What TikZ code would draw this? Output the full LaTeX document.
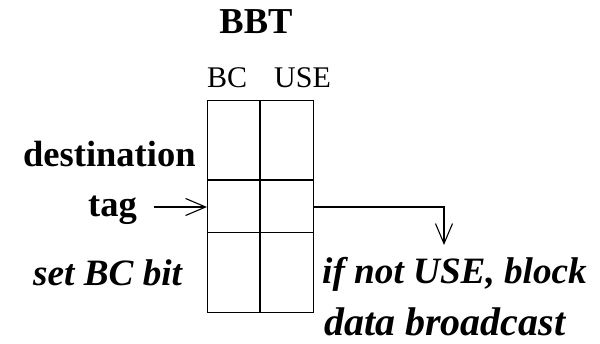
\documentclass[tikz,border=0pt]{standalone}
\usepackage{fontspec}
\setmainfont{Liberation Serif}
\usetikzlibrary{arrows.meta}
\begin{document}
\begin{tikzpicture}[x=1pt,y=-1pt,
  grid/.style={line width=1.3pt},
  wire/.style={line width=1.1pt},
  barb/.style={-{Straight Barb[length=20pt,width=17pt,line width=1.1pt]}},
  boldlbl/.style={font=\fontsize{36.5}{40}\selectfont\bfseries, inner sep=0pt, anchor=base west},
  itlbl/.style={font=\fontsize{37.2}{40}\selectfont\bfseries\itshape, inner sep=0pt, anchor=base west},
  bigitlbl/.style={font=\fontsize{40}{44}\selectfont\bfseries\itshape, inner sep=0pt, anchor=base west},
  headlbl/.style={font=\fontsize{30}{34}\selectfont, inner sep=0pt, anchor=base west}]
\useasboundingbox (0,0) rectangle (600,343);

% table of the BBT: two columns, three rows
\node[draw, grid, minimum width=106pt, minimum height=212pt, inner sep=0pt, anchor=north west] (tbl) at (207,100) {};
\draw[grid] (260,100) -- (260,312);
\draw[grid] (207,180) -- (313,180);
\draw[grid] (207,232.7) -- (313,232.7);
\coordinate (rowin) at (207,207);
\coordinate (rowout) at (313,207);

% titles
\node[boldlbl, anchor=base] (bbt) at (256,33.5) {BBT};
\node[headlbl] (bc) at (207,87.3) {BC};
\node[headlbl] (use) at (274,87.3) {USE};

% left-hand labels
\node[boldlbl] (dest) at (23,166.5) {destination};
\node[boldlbl] (tag) at (88,216) {tag};
\node[itlbl] (setbc) at (33,285.5) {set BC bit};

% right-hand labels
\node[itlbl] (ifnot) at (322,283.5) {if not USE, block};
\node[bigitlbl] (data) at (324,335) {data broadcast};

% connectors
\coordinate (tagend) at (154,207);
\coordinate (bend) at (444,207);
\coordinate (outend) at (444,245);
\draw[wire, barb] (tagend) -- (rowin);
\draw[wire, barb] (rowout) -- (bend) -- (outend);
\end{tikzpicture}
\end{document}
